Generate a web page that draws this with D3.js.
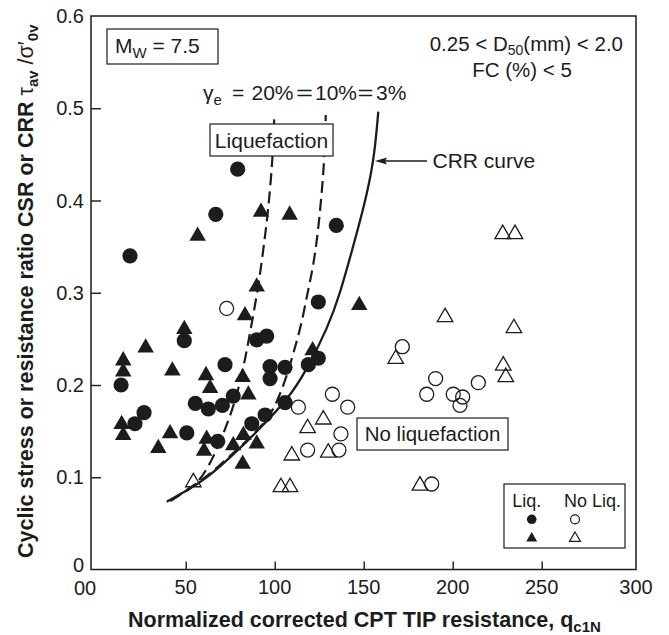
<!DOCTYPE html>
<html><head><meta charset="utf-8">
<script src="https://cdn.jsdelivr.net/npm/d3@7"></script>
<style>
body{margin:0;background:#fff}
svg{display:block}
text{font-family:Arial,"Liberation Sans",Helvetica,sans-serif;fill:#1c1c1c}
</style>
</head><body>
<svg id="c" width="669" height="635"></svg>
<script>
// ---------- data ----------
const xTicks = [0, 50, 100, 150, 200, 250, 300];
const xTickLabels = ["00", "50", "100", "150", "200", "250", "300"];
const yTicks = [0, 0.1, 0.2, 0.3, 0.4, 0.5, 0.6];
const yTickLabels = ["0", "0.1", "0.2", "0.3", "0.4", "0.5", "0.6"];

const liqCircleX = [18.7, 79.2, 66.9, 134.6, 124.5, 49.2, 13.7, 21.5, 26.6, 50.6, 55.4, 62.7, 70.6, 76.7, 72.1, 68, 89.9, 95.5, 97.4, 97.4, 105.8, 87.1, 94.6, 105.8, 118.9, 124.5];
const liqCircleY = [0.340, 0.434, 0.385, 0.373, 0.290, 0.248, 0.200, 0.158, 0.170, 0.148, 0.180, 0.174, 0.178, 0.188, 0.222, 0.139, 0.249, 0.253, 0.220, 0.207, 0.219, 0.158, 0.1675, 0.181, 0.222, 0.229];

const liqTriX = [14.9, 14.9, 27.5, 42.5, 49.2, 14, 14.9, 34.6, 41.2, 61.4, 63.7, 61.8, 60.3, 76.7, 82, 85.2, 82.4, 82, 89.9, 83.3, 89.9, 121.3, 56.7, 92.3, 108.4, 147.5];
const liqTriY = [0.229, 0.217, 0.243, 0.218, 0.263, 0.160, 0.148, 0.134, 0.150, 0.213, 0.199, 0.144, 0.131, 0.137, 0.211, 0.192, 0.148, 0.117, 0.139, 0.278, 0.309, 0.240, 0.364, 0.390, 0.387, 0.289];

const noLiqCircleX = [73, 113.3, 132.4, 141, 137.2, 118.5, 136.1, 171.7, 190.4, 185.4, 200.3, 205.6, 204.1, 214.4, 188.2];
const noLiqCircleY = [0.283, 0.176, 0.190, 0.176, 0.147, 0.1295, 0.1295, 0.2415, 0.207, 0.190, 0.190, 0.187, 0.178, 0.2025, 0.0927];

const noLiqTriX = [228.1, 235.0, 195.7, 234.4, 168, 228.4, 229.8, 181.6, 127.3, 118.5, 109.6, 130.1, 103.5, 108.6, 54.3];
const noLiqTriY = [0.366, 0.366, 0.276, 0.264, 0.2307, 0.2235, 0.211, 0.0934, 0.165, 0.1556, 0.126, 0.129, 0.0916, 0.0916, 0.097];

// CRR curve (solid) and strain curves (dashed)
const crrX = [39.3, 50, 60.8, 79.6, 94.6, 107.6, 117.0, 130.1, 136.8, 143.5, 150.2, 155.8, 158.2];
const crrY = [0.0735, 0.085, 0.097, 0.1295, 0.1585, 0.1856, 0.2127, 0.2632, 0.2997, 0.3463, 0.3933, 0.4428, 0.4963];
const g20X = [41.2, 46.8, 55.8, 61.8, 68.3, 74.9, 79.6, 83.7, 87.1, 90.8, 93.6, 96.4, 98.9, 99.8];
const g20Y = [0.0743, 0.0808, 0.0916, 0.1078, 0.1331, 0.1656, 0.1946, 0.2307, 0.2669, 0.3066, 0.3463, 0.3897, 0.4457, 0.4927];
const g10X = [42, 50, 60.8, 79.6, 94.6, 101.1, 106.7, 111.0, 115.2, 118.4, 121.5, 124.3, 126.4, 127.9, 128.7];
const g10Y = [0.075, 0.0855, 0.0985, 0.131, 0.1585, 0.1802, 0.2090, 0.2380, 0.2669, 0.2997, 0.3268, 0.3648, 0.4078, 0.444, 0.4927];

// ---------- layout ----------
const svg = d3.select("#c");
const frame = {l: 91, r: 636, t: 16, b: 569.5};
const x = d3.scaleLinear().domain([0, 300]).range([96.7, 630.7]);
const y = d3.scaleLinear().domain([0, 0.6]).range([569.5, 16]);
const ink = "#1c1c1c";

// frame
svg.append("rect").attr("x", frame.l).attr("y", frame.t)
  .attr("width", frame.r - frame.l).attr("height", frame.b - frame.t)
  .attr("fill", "none").attr("stroke", ink).attr("stroke-width", 1.5);

// x axis ticks (inward)
const xAxis = d3.axisBottom(x).tickValues(xTicks.slice(1, -1)).tickSize(-8).tickFormat("");
const gx = svg.append("g").attr("transform", `translate(0,${frame.b})`).call(xAxis);
gx.select(".domain").remove();
gx.selectAll("line").attr("stroke", ink).attr("stroke-width", 1.4);
svg.append("g").selectAll("text").data(xTicks).join("text")
  .attr("x", (d, i) => i === 0 ? frame.l - 6 : (i === xTicks.length - 1 ? frame.r : x(d)))
  .attr("y", (d, i) => i === 0 ? 595 : 594).attr("text-anchor", "middle").attr("font-size", 20)
  .text((d, i) => xTickLabels[i]);

// y axis ticks (inward)
const yAxis = d3.axisLeft(y).tickValues(yTicks.slice(1, -1)).tickSize(-10).tickFormat("");
const gy = svg.append("g").attr("transform", `translate(${frame.l},0)`).call(yAxis);
gy.select(".domain").remove();
gy.selectAll("line").attr("stroke", ink).attr("stroke-width", 1.4);
svg.append("g").selectAll("text").data(yTicks).join("text")
  .attr("x", 84).attr("y", d => y(d)).attr("dy", (d, i) => i === 0 ? "0.14em" : "0.36em")
  .attr("text-anchor", "end").attr("font-size", 20)
  .text((d, i) => yTickLabels[i]);

// axis titles
const xt = svg.append("text").attr("x", 128).attr("y", 627)
  .attr("font-size", 21.5).attr("font-weight", "bold");
xt.append("tspan").text("Normalized corrected CPT TIP resistance, q");
xt.append("tspan").attr("font-size", 15).attr("dy", 5).text("c1N");

const yt = svg.append("text").attr("transform", "translate(33,558) rotate(-90)")
  .attr("font-size", 21.5).attr("font-weight", "bold");
yt.append("tspan").text("Cyclic stress or resistance ratio CSR or CRR ");
yt.append("tspan").attr("font-weight", "normal").text("τ");
yt.append("tspan").attr("font-size", 15).attr("dy", 5).text("av");
yt.append("tspan").attr("font-weight", "normal").attr("dy", -5).text(" /σ′");
yt.append("tspan").attr("font-size", 15).attr("dy", 5).text("0v");

// ---------- curves ----------
const line = d3.line().x(d => x(d[0])).y(d => y(d[1])).curve(d3.curveBasis);
const zip = (a, b) => a.map((v, i) => [v, b[i]]);
svg.append("path").attr("d", line(zip(g20X, g20Y))).attr("fill", "none")
  .attr("stroke", ink).attr("stroke-width", 2.2).attr("stroke-dasharray", "12,6");
svg.append("path").attr("d", line(zip(g10X, g10Y))).attr("fill", "none")
  .attr("stroke", ink).attr("stroke-width", 2.2).attr("stroke-dasharray", "12,6");
svg.append("path").attr("d", line(zip(crrX, crrY))).attr("fill", "none")
  .attr("stroke", ink).attr("stroke-width", 2.3);

// ---------- markers ----------
const triType = {draw(ctx, size) {
  const w = Math.sqrt(size * 4 / Math.sqrt(3));
  const h = w * Math.sqrt(3) / 2;
  ctx.moveTo(0, -h / 2); ctx.lineTo(w / 2, h / 2); ctx.lineTo(-w / 2, h / 2); ctx.closePath();
}};
const triBig = d3.symbol().type(triType).size(Math.sqrt(3) / 4 * 16.5 * 16.5)();
const triOpen = d3.symbol().type(triType).size(Math.sqrt(3) / 4 * 15.5 * 15.5)();

svg.append("g").selectAll("path").data(zip(liqTriX, liqTriY)).join("path")
  .attr("transform", d => `translate(${x(d[0])},${y(d[1])})`).attr("d", triBig).attr("fill", ink);
svg.append("g").selectAll("circle").data(zip(liqCircleX, liqCircleY)).join("circle")
  .attr("cx", d => x(d[0])).attr("cy", d => y(d[1])).attr("r", 7.6).attr("fill", ink);
svg.append("g").selectAll("path").data(zip(noLiqTriX, noLiqTriY)).join("path")
  .attr("transform", d => `translate(${x(d[0])},${y(d[1])})`).attr("d", triOpen)
  .attr("fill", "none").attr("stroke", ink).attr("stroke-width", 1.3);
svg.append("g").selectAll("circle").data(zip(noLiqCircleX, noLiqCircleY)).join("circle")
  .attr("cx", d => x(d[0])).attr("cy", d => y(d[1])).attr("r", 7)
  .attr("fill", "none").attr("stroke", ink).attr("stroke-width", 1.3);

// ---------- annotations ----------
function box(x0, y0, x1, y1) {
  svg.append("rect").attr("x", x0).attr("y", y0).attr("width", x1 - x0).attr("height", y1 - y0)
    .attr("fill", "#fff").attr("stroke", ink).attr("stroke-width", 1.2);
}
box(107, 29, 218, 64);
const mw = svg.append("text").attr("x", 115).attr("y", 53).attr("font-size", 21);
mw.append("tspan").text("M");
mw.append("tspan").attr("font-size", 15).attr("dy", 5).text("W");
mw.append("tspan").attr("dy", -5).text(" = 7.5");

const d50 = svg.append("text").attr("x", 623).attr("y", 51).attr("font-size", 20.5).attr("text-anchor", "end");
d50.append("tspan").text("0.25 < D");
d50.append("tspan").attr("font-size", 14).attr("dy", 4).text("50");
d50.append("tspan").attr("dy", -4).text("(mm) < 2.0");
svg.append("text").attr("x", 522).attr("y", 77).attr("font-size", 20.5).attr("text-anchor", "middle").text("FC (%) < 5");

const ge = svg.append("text").attr("x", 203).attr("y", 100).attr("font-size", 21);
ge.append("tspan").text("γ");
ge.append("tspan").attr("font-size", 15).attr("dy", 5).text("e");
ge.append("tspan").attr("x", 232).attr("dy", -5).text("=");
ge.append("tspan").attr("x", 251.5).text("20%");
ge.append("tspan").attr("x", 296).attr("textLength", 17).attr("lengthAdjust", "spacingAndGlyphs").text("=");
ge.append("tspan").attr("x", 315).text("10%");
ge.append("tspan").attr("x", 357.5).attr("textLength", 16).attr("lengthAdjust", "spacingAndGlyphs").text("=");
ge.append("tspan").attr("x", 376).text("3%");

box(210, 124, 333, 156);
svg.append("text").attr("x", 271.5).attr("y", 148).attr("font-size", 21).attr("text-anchor", "middle").text("Liquefaction");

box(357, 418, 508, 450);
svg.append("text").attr("x", 432.5).attr("y", 440.5).attr("font-size", 20.5).attr("text-anchor", "middle").text("No liquefaction");

// CRR curve arrow
svg.append("line").attr("x1", 427).attr("y1", 161).attr("x2", 382).attr("y2", 161)
  .attr("stroke", ink).attr("stroke-width", 1.4);
svg.append("path").attr("d", "M375,161 L387,157.5 L385,161 L387,164.5 Z").attr("fill", ink);
svg.append("text").attr("x", 432.5).attr("y", 168.3).attr("font-size", 21).text("CRR curve");

// legend
box(504, 484, 625, 548);
svg.append("text").attr("x", 526.7).attr("y", 506.5).attr("font-size", 18).attr("text-anchor", "middle").text("Liq.");
svg.append("text").attr("x", 592.5).attr("y", 506.5).attr("font-size", 18).attr("text-anchor", "middle").text("No Liq.");
svg.append("circle").attr("cx", 531.7).attr("cy", 519.3).attr("r", 4.8).attr("fill", ink);
svg.append("circle").attr("cx", 575).attr("cy", 519.3).attr("r", 4.5).attr("fill", "none").attr("stroke", ink).attr("stroke-width", 1.2);
const triSmall = d3.symbol().type(triType).size(Math.sqrt(3) / 4 * 11 * 11)();
svg.append("path").attr("transform", "translate(531.7,536.7)").attr("d", triSmall).attr("fill", ink);
svg.append("path").attr("transform", "translate(575,536.7)").attr("d", triSmall).attr("fill", "none").attr("stroke", ink).attr("stroke-width", 1.2);
</script>
</body></html>
